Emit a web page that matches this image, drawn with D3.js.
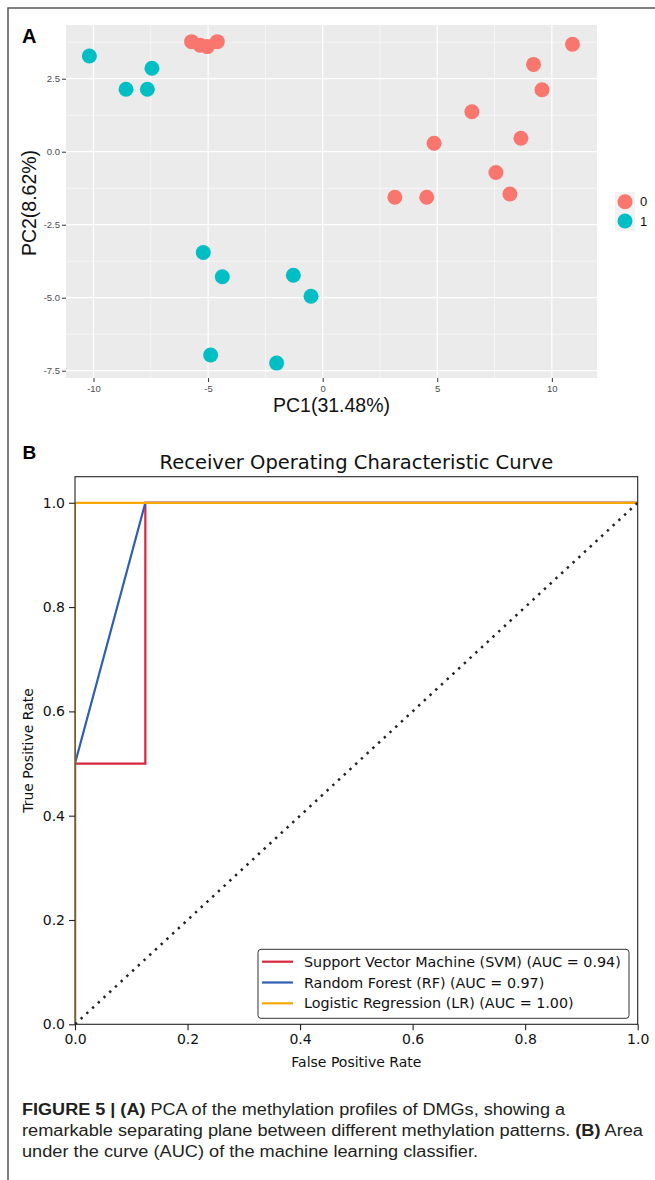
<!DOCTYPE html>
<html>
<head>
<meta charset="utf-8">
<script src="https://cdn.jsdelivr.net/npm/d3@7"></script>
<style>
  body { margin: 0; background: #fff; }
</style>
</head>
<body>
<div id="fig"></div>
<script>
// panel A: PCA scores per group [PC1, PC2]
var pcaGroup0 = [[-5.72, 3.77], [-5.35, 3.65], [-5.03, 3.6], [-4.6, 3.77], [10.9, 3.68], [9.2, 2.99],
  [9.57, 2.12], [6.51, 1.37], [4.86, 0.29], [8.65, 0.46], [7.56, -0.71], [8.17, -1.45], [3.15, -1.56], [4.54, -1.56]];
var pcaGroup1 = [[-10.18, 3.28], [-8.58, 2.14], [-7.65, 2.14], [-7.45, 2.86], [-5.21, -3.45], [-4.38, -4.28],
  [-1.28, -4.23], [-0.51, -4.95], [-4.89, -6.96], [-2.01, -7.24]];
var pcaGroups = ["0", "1"];
var pcaXTicks = [-10, -5, 0, 5, 10];
var pcaXMinor = [-7.5, -2.5, 2.5, 7.5];
var pcaYTicks = [-7.5, -5, -2.5, 0, 2.5];
var pcaYMinor = [-6.25, -3.75, -1.25, 1.25, 3.75];

// panel B: ROC curves
var svmFpr = [0, 0, 0.125, 0.125, 1];
var svmTpr = [0, 0.5, 0.5, 1, 1];
var rfFpr = [0, 0, 0.125, 1];
var rfTpr = [0, 0.5, 1, 1];
var lrFpr = [0, 0, 1];
var lrTpr = [0, 1, 1];
var rocLabels = ["Support Vector Machine (SVM) (AUC = 0.94)", "Random Forest (RF) (AUC = 0.97)", "Logistic Regression (LR) (AUC = 1.00)"];
var rocTicks = [0, 0.2, 0.4, 0.6, 0.8, 1.0];

var W = 655, H = 1180;
var svg = d3.select("#fig").append("svg")
  .attr("width", W)
  .attr("height", H)
  .style("display", "block");

svg.append("rect").attr("width", W).attr("height", H).attr("fill", "#fff");

// figure frame (left + top)
svg.append("path")
  .attr("d", "M8," + H + "V8H" + W)
  .attr("fill", "none")
  .attr("stroke", "#555")
  .attr("stroke-width", 1.5);

/* ---------- A: PCA ---------- */
var sans = "'Liberation Sans', Arial, sans-serif";
var xPca = d3.scaleLinear().domain([-11.2, 11.97]).range([66, 597]);
var yPca = d3.scaleLinear().domain([-7.75, 4.34]).range([378, 25]);
var colorPca = d3.scaleOrdinal().domain(pcaGroups).range(["#F8766D", "#00BFC4"]);

var gA = svg.append("g");
gA.append("rect")
  .attr("x", xPca.range()[0]).attr("y", yPca.range()[1])
  .attr("width", xPca.range()[1] - xPca.range()[0])
  .attr("height", yPca.range()[0] - yPca.range()[1])
  .attr("fill", "#ebebeb");

gA.selectAll(".vminor").data(pcaXMinor).enter().append("line")
  .attr("x1", xPca).attr("x2", xPca)
  .attr("y1", yPca.range()[1]).attr("y2", yPca.range()[0])
  .attr("stroke", "#fff").attr("stroke-width", 0.6);
gA.selectAll(".hminor").data(pcaYMinor).enter().append("line")
  .attr("y1", yPca).attr("y2", yPca)
  .attr("x1", xPca.range()[0]).attr("x2", xPca.range()[1])
  .attr("stroke", "#fff").attr("stroke-width", 0.6);
gA.selectAll(".vmajor").data(pcaXTicks).enter().append("line")
  .attr("x1", xPca).attr("x2", xPca)
  .attr("y1", yPca.range()[1]).attr("y2", yPca.range()[0])
  .attr("stroke", "#fff").attr("stroke-width", 1.2);
gA.selectAll(".hmajor").data(pcaYTicks).enter().append("line")
  .attr("y1", yPca).attr("y2", yPca)
  .attr("x1", xPca.range()[0]).attr("x2", xPca.range()[1])
  .attr("stroke", "#fff").attr("stroke-width", 1.2);

var axXA = gA.append("g")
  .attr("transform", "translate(0," + yPca.range()[0] + ")")
  .call(d3.axisBottom(xPca).tickValues(pcaXTicks).tickSize(4).tickPadding(3).tickFormat(function(d) { return String(d); }));
var axYA = gA.append("g")
  .attr("transform", "translate(" + xPca.range()[0] + ",0)")
  .call(d3.axisLeft(yPca).tickValues(pcaYTicks).tickSize(4).tickPadding(2).tickFormat(function(d) { return d.toFixed(1); }));
[axXA, axYA].forEach(function(ax) {
  ax.select(".domain").remove();
  ax.selectAll("line").attr("stroke", "#333");
  ax.selectAll("text").attr("fill", "#4d4d4d").style("font-family", sans).style("font-size", "9.5px");
});

var pcaPoints = pcaGroup0.map(function(p) { return {x: p[0], y: p[1], g: "0"}; })
  .concat(pcaGroup1.map(function(p) { return {x: p[0], y: p[1], g: "1"}; }));
gA.selectAll(".pt").data(pcaPoints).enter().append("circle")
  .attr("cx", function(d) { return xPca(d.x); })
  .attr("cy", function(d) { return yPca(d.y); })
  .attr("r", 7.5)
  .attr("fill", function(d) { return colorPca(d.g); });

gA.append("text")
  .attr("x", (xPca.range()[0] + xPca.range()[1]) / 2).attr("y", 412)
  .attr("text-anchor", "middle")
  .style("font-family", sans).style("font-size", "19.5px").attr("fill", "#111")
  .text("PC1(31.48%)");
gA.append("text")
  .attr("transform", "translate(36,203) rotate(-90)")
  .attr("text-anchor", "middle")
  .style("font-family", sans).style("font-size", "19.5px").attr("fill", "#111")
  .text("PC2(8.62%)");

// legend
var legA = gA.append("g").attr("transform", "translate(615,192)");
legA.append("rect").attr("width", 20).attr("height", 39).attr("fill", "#f2f2f2");
pcaGroups.forEach(function(g, i) {
  legA.append("circle").attr("cx", 10).attr("cy", 9.7 + i * 19.3).attr("r", 7.5).attr("fill", colorPca(g));
  legA.append("text").attr("x", 25).attr("y", 9.7 + i * 19.3).attr("dy", "0.35em")
    .style("font-family", sans).style("font-size", "13px").attr("fill", "#111").text(g);
});

svg.append("text").attr("x", 22).attr("y", 42.5)
  .style("font-family", sans).style("font-size", "20px").style("font-weight", "bold").text("A");

/* ---------- B: ROC ---------- */
var dv = "'DejaVu Sans', sans-serif";
var xRoc = d3.scaleLinear().domain([0, 1]).range([75, 637.7]);
var yRoc = d3.scaleLinear().domain([0, 1.05]).range([1024.3, 476.7]);
var gB = svg.append("g");

svg.append("text").attr("x", 22.5).attr("y", 458.5)
  .style("font-family", sans).style("font-size", "19px").style("font-weight", "bold").text("B");

gB.append("text")
  .attr("x", (xRoc.range()[0] + xRoc.range()[1]) / 2).attr("y", 468.5)
  .attr("text-anchor", "middle")
  .style("font-family", dv).style("font-size", "19.5px").attr("fill", "#111")
  .text("Receiver Operating Characteristic Curve");

gB.append("clipPath").attr("id", "rocClip").append("rect")
  .attr("x", xRoc.range()[0]).attr("y", yRoc.range()[1])
  .attr("width", xRoc.range()[1] - xRoc.range()[0])
  .attr("height", yRoc.range()[0] - yRoc.range()[1]);

var line = d3.line().x(function(d) { return xRoc(d[0]); }).y(function(d) { return yRoc(d[1]); });
var curves = [
  {fpr: svmFpr, tpr: svmTpr, color: "#d7263d"},
  {fpr: rfFpr, tpr: rfTpr, color: "#2f5fb3"},
  {fpr: lrFpr, tpr: lrTpr, color: "#f5a800"}
];
var plotB = gB.append("g").attr("clip-path", "url(#rocClip)");
curves.forEach(function(c) {
  plotB.append("path")
    .datum(d3.zip(c.fpr, c.tpr))
    .attr("d", line)
    .attr("fill", "none")
    .attr("stroke", c.color)
    .attr("stroke-width", 2.2);
});
plotB.append("path")
  .datum([[0, 0], [1, 1]])
  .attr("d", line)
  .attr("fill", "none")
  .attr("stroke", "#222")
  .attr("stroke-width", 2.5)
  .attr("stroke-dasharray", "2.4,5.4");

// axes box
gB.append("rect")
  .attr("x", xRoc.range()[0]).attr("y", yRoc.range()[1])
  .attr("width", xRoc.range()[1] - xRoc.range()[0])
  .attr("height", yRoc.range()[0] - yRoc.range()[1])
  .attr("fill", "none").attr("stroke", "#222").attr("stroke-width", 1.1);

var axXB = gB.append("g")
  .attr("transform", "translate(0," + yRoc.range()[0] + ")")
  .call(d3.axisBottom(xRoc).tickValues(rocTicks).tickSize(6).tickPadding(4).tickFormat(function(d) { return d.toFixed(1); }));
var axYB = gB.append("g")
  .attr("transform", "translate(" + xRoc.range()[0] + ",0)")
  .call(d3.axisLeft(yRoc).tickValues(rocTicks).tickSize(6).tickPadding(4).tickFormat(function(d) { return d.toFixed(1); }));
[axXB, axYB].forEach(function(ax) {
  ax.select(".domain").remove();
  ax.selectAll("line").attr("stroke", "#222").attr("stroke-width", 1.1);
  ax.selectAll("text").attr("fill", "#111").style("font-family", dv).style("font-size", "14px");
});

gB.append("text")
  .attr("x", (xRoc.range()[0] + xRoc.range()[1]) / 2).attr("y", 1067)
  .attr("text-anchor", "middle")
  .style("font-family", dv).style("font-size", "14px").attr("fill", "#111")
  .text("False Positive Rate");
gB.append("text")
  .attr("transform", "translate(33," + (yRoc.range()[0] + yRoc.range()[1]) / 2 + ") rotate(-90)")
  .attr("text-anchor", "middle")
  .style("font-family", dv).style("font-size", "14px").attr("fill", "#111")
  .text("True Positive Rate");

// legend
var legB = gB.append("g").attr("transform", "translate(258,949.3)");
legB.append("rect").attr("width", 371).attr("height", 69).attr("rx", 3)
  .attr("fill", "#fff").attr("stroke", "#333").attr("stroke-width", 1);
rocLabels.forEach(function(lab, i) {
  var yy = 12.4 + i * 20.8;
  legB.append("line").attr("x1", 4).attr("x2", 35).attr("y1", yy).attr("y2", yy)
    .attr("stroke", curves[i].color).attr("stroke-width", 2.2);
  legB.append("text").attr("x", 46).attr("y", yy).attr("dy", "0.36em")
    .style("font-family", dv).style("font-size", "14.3px").attr("fill", "#111").text(lab);
});

/* ---------- caption ---------- */
var capLines = [
  {w: 543, parts: [["FIGURE 5 | (A)", true], [" PCA of the methylation profiles of DMGs, showing a", false]]},
  {w: 621, parts: [["remarkable separating plane between different methylation patterns. ", false], ["(B)", true], [" Area", false]]},
  {w: 456, parts: [["under the curve (AUC) of the machine learning classifier.", false]]}
];
capLines.forEach(function(l, i) {
  var t = svg.append("text")
    .attr("x", 22).attr("y", 1115 + i * 20.8)
    .attr("textLength", l.w).attr("lengthAdjust", "spacingAndGlyphs")
    .style("font-family", "'Liberation Sans Narrow', 'Liberation Sans', Arial, sans-serif")
    .style("font-size", "16px").attr("fill", "#231f20");
  l.parts.forEach(function(p) {
    t.append("tspan").style("font-weight", p[1] ? "bold" : "normal").text(p[0]);
  });
});
</script>
</body>
</html>
